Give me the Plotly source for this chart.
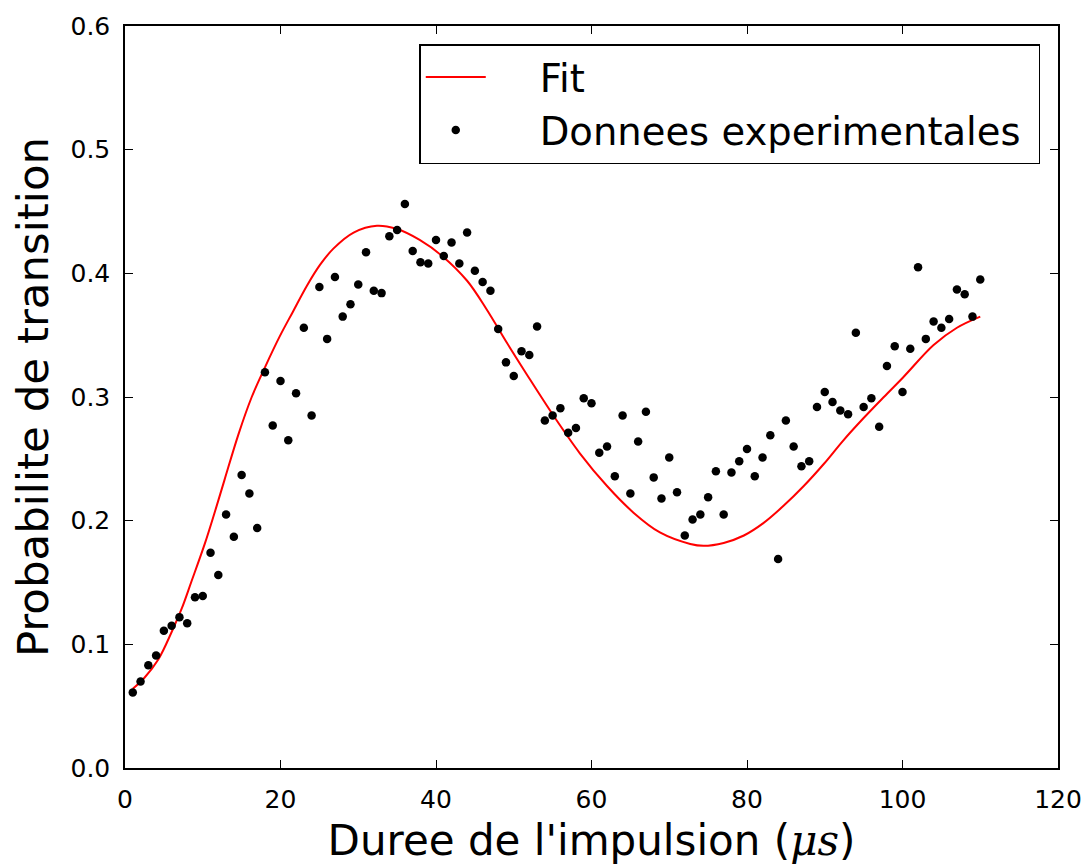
import plotly.graph_objects as go

# Experimental data: pulse duration (µs) and transition probability
duree = list(range(1, 111))
proba = [
    0.061, 0.070, 0.083, 0.091, 0.111, 0.115, 0.122, 0.117, 0.138, 0.139,
    0.174, 0.156, 0.205, 0.187, 0.237, 0.222, 0.194, 0.320, 0.277, 0.313,
    0.265, 0.303, 0.356, 0.285, 0.389, 0.347, 0.397, 0.365, 0.375, 0.391,
    0.417, 0.386, 0.384, 0.430, 0.435, 0.456, 0.418, 0.409, 0.408, 0.427,
    0.414, 0.425, 0.408, 0.433, 0.402, 0.393, 0.386, 0.355, 0.328, 0.317,
    0.337, 0.334, 0.357, 0.281, 0.285, 0.291, 0.271, 0.275, 0.299, 0.295,
    0.255, 0.260, 0.236, 0.285, 0.222, 0.264, 0.288, 0.235, 0.218, 0.251,
    0.223, 0.188, 0.201, 0.205, 0.219, 0.240, 0.205, 0.239, 0.248, 0.258,
    0.236, 0.251, 0.269, 0.169, 0.281, 0.260, 0.244, 0.248, 0.292, 0.304,
    0.296, 0.289, 0.286, 0.352, 0.292, 0.299, 0.276, 0.325, 0.341, 0.304,
    0.339, 0.405, 0.347, 0.361, 0.356, 0.363, 0.387, 0.383, 0.365, 0.395,
]

# Fit curve at sample positions
fit_x = [1, 2.5, 4.3, 6, 7.3, 8.5, 10.3, 11.6, 12.8, 14.6, 16.3, 18, 19.9,
         21.6, 23.4, 25.1, 26.8, 29.4, 32.4, 34.9, 37.9, 40.9, 44, 46.5, 49.1,
         51.7, 55.1, 58.5, 62, 65.4, 68.8, 72.7, 74.4, 77, 79.6, 82.1, 84.7,
         87.3, 89.9, 92.4, 95, 97.6, 100.1, 104, 107, 110]
fit_y = [0.064, 0.073, 0.088, 0.110, 0.129, 0.150, 0.182, 0.208, 0.233, 0.270,
         0.300, 0.324, 0.349, 0.369, 0.390, 0.407, 0.420, 0.433, 0.4385, 0.436,
         0.427, 0.4135, 0.394, 0.371, 0.344, 0.318, 0.285, 0.2545, 0.228,
         0.2065, 0.1905, 0.1812, 0.1797, 0.182, 0.188, 0.198, 0.212, 0.228,
         0.246, 0.265, 0.283, 0.300, 0.316, 0.342, 0.356, 0.365]

x_ticks = [0, 20, 40, 60, 80, 100, 120]
y_ticks = [0.0, 0.1, 0.2, 0.3, 0.4, 0.5, 0.6]

FONT = "DejaVu Sans, sans-serif"
NB = "\u00a0"

fig = go.Figure()
fig.add_trace(go.Scatter(
    x=fit_x, y=fit_y, mode="lines", name=NB * 4 + "Fit",
    line=dict(color="#ff0000", width=2, shape="spline", smoothing=1.0),
))
fig.add_trace(go.Scatter(
    x=duree, y=proba, mode="markers", name=NB * 4 + "Donnees experimentales" + NB,
    marker=dict(color="black", size=8.5),
))

axis_common = dict(
    showline=True, linecolor="black", linewidth=1.5, mirror="allticks",
    ticks="inside", ticklen=8, tickwidth=1, tickcolor="black",
    showgrid=False, zeroline=False, automargin=False,
    tickfont=dict(family=FONT, size=25, color="black"),
    ticklabelstandoff=8,
)

fig.update_xaxes(
    range=[0, 120], tickvals=x_ticks, ticktext=[str(v) for v in x_ticks],
    title=dict(text="Duree de l'impulsion (<span style='font-family:DejaVu Serif'><i>μs</i></span>)",
               font=dict(family=FONT, size=42, color="black"), standoff=14),
    **axis_common,
)
fig.update_yaxes(
    range=[0, 0.6], tickvals=y_ticks, ticktext=[f"{v:.1f}" for v in y_ticks],
    title=dict(text="Probabilite de transition",
               font=dict(family=FONT, size=43.5, color="black"), standoff=8),
    **axis_common,
)

fig.update_layout(
    template="none",
    width=1090, height=865,
    margin=dict(l=125, r=32, t=26, b=97, autoexpand=False),
    paper_bgcolor="white", plot_bgcolor="white",
    showlegend=True,
    legend=dict(
        x=0.981, y=0.9757, xanchor="right", yanchor="top",
        bgcolor="white", bordercolor="black", borderwidth=1.5,
        font=dict(family=FONT, size=38.5, color="black"),
        itemwidth=60, tracegroupgap=0,
    ),
)

# remove the default 8px page margin so the figure fills the window exactly
fig.write_html("out.html", config={"displayModeBar": False},
               post_script="document.body.style.margin='0';")
